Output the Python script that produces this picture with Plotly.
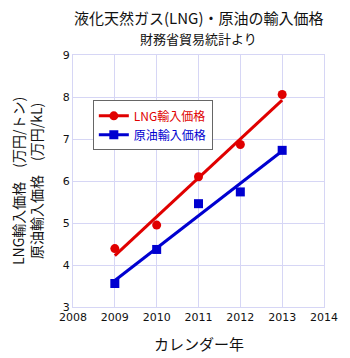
import numpy as np
import plotly.graph_objects as go

# Calendar years and import prices
years = [2009, 2010, 2011, 2012, 2013]
lng_price = [4.39, 4.95, 6.10, 6.87, 8.06]     # 万円/トン
crude_price = [3.56, 4.37, 5.46, 5.74, 6.73]   # 万円/kL

x_ticks = [2008, 2009, 2010, 2011, 2012, 2013, 2014]
y_ticks = [3, 4, 5, 6, 7, 8, 9]

RED = "#e00000"
BLUE = "#0000d0"
GRID = "#d6d6f5"
FONT = "Noto Sans CJK JP, Noto Sans, sans-serif"
TICK_FONT = "DejaVu Sans, Verdana, sans-serif"


def linear_fit(xs, ys):
    k, b = np.polyfit(np.array(xs, float), np.array(ys, float), 1)
    return [k * x + b for x in xs]


fig = go.Figure()

series = [
    ("LNG輸入価格", lng_price, RED, "circle"),
    ("原油輸入価格", crude_price, BLUE, "square"),
]

for name, vals, color, symbol in series:
    fitted = linear_fit(years, vals)
    # regression line
    fig.add_trace(go.Scatter(
        x=[years[0], years[-1]], y=[fitted[0], fitted[-1]],
        mode="lines", line=dict(color=color, width=3),
        showlegend=False, hoverinfo="skip"))
    # observed values
    fig.add_trace(go.Scatter(
        x=years, y=vals, mode="markers",
        marker=dict(color=color, symbol=symbol, size=9),
        showlegend=False))
    # legend entry
    fig.add_trace(go.Scatter(
        x=[None], y=[None], mode="lines+markers",
        line=dict(color=color, width=3),
        marker=dict(color=color, symbol=symbol, size=9),
        name=f"<span style='color:{color}'>{name}</span>"))

axis_common = dict(
    showgrid=True, gridcolor=GRID, gridwidth=1,
    showline=True, linecolor=GRID, linewidth=1, mirror=True,
    zeroline=False, ticks="",
    tickfont=dict(family=TICK_FONT, size=11, color="#111"),
)

fig.update_xaxes(range=[2008, 2014], tickvals=x_ticks, ticktext=[str(v) for v in x_ticks],
                 **axis_common)
fig.update_yaxes(range=[3, 9], tickvals=y_ticks, **axis_common)

fig.update_layout(
    width=350, height=358,
    margin=dict(l=73, r=24, t=55, b=51),
    paper_bgcolor="white", plot_bgcolor="white",
    font=dict(family=FONT, color="#111"),
    legend=dict(
        x=0.079, y=0.82, xanchor="left", yanchor="top",
        bgcolor="white", bordercolor="#666", borderwidth=1,
        font=dict(family=FONT, size=12),
        itemwidth=30, tracegroupgap=0,
    ),
    annotations=[
        dict(text="液化天然ガス(LNG)・原油の輸入価格", xref="paper", yref="paper",
             x=0.5, y=1, yshift=38, xanchor="center", yanchor="middle",
             showarrow=False, font=dict(family=FONT, size=15, color="#111")),
        dict(text="財務省貿易統計より", xref="paper", yref="paper",
             x=0.5, y=1, yshift=17, xanchor="center", yanchor="middle",
             showarrow=False, font=dict(family=FONT, size=13, color="#111")),
        dict(text="カレンダー年", xref="paper", yref="paper",
             x=0.5, y=0, yshift=-36, xanchor="center", yanchor="middle",
             showarrow=False, font=dict(family=FONT, size=15, color="#111")),
        dict(text="LNG輸入価格　(万円/トン)<br>原油輸入価格　(万円/kL)",
             xref="paper", yref="paper", x=0, y=0.5, xshift=-46,
             xanchor="center", yanchor="middle", textangle=-90,
             showarrow=False, font=dict(family=FONT, size=14, color="#111")),
    ],
)

fig.write_html("out.html")
